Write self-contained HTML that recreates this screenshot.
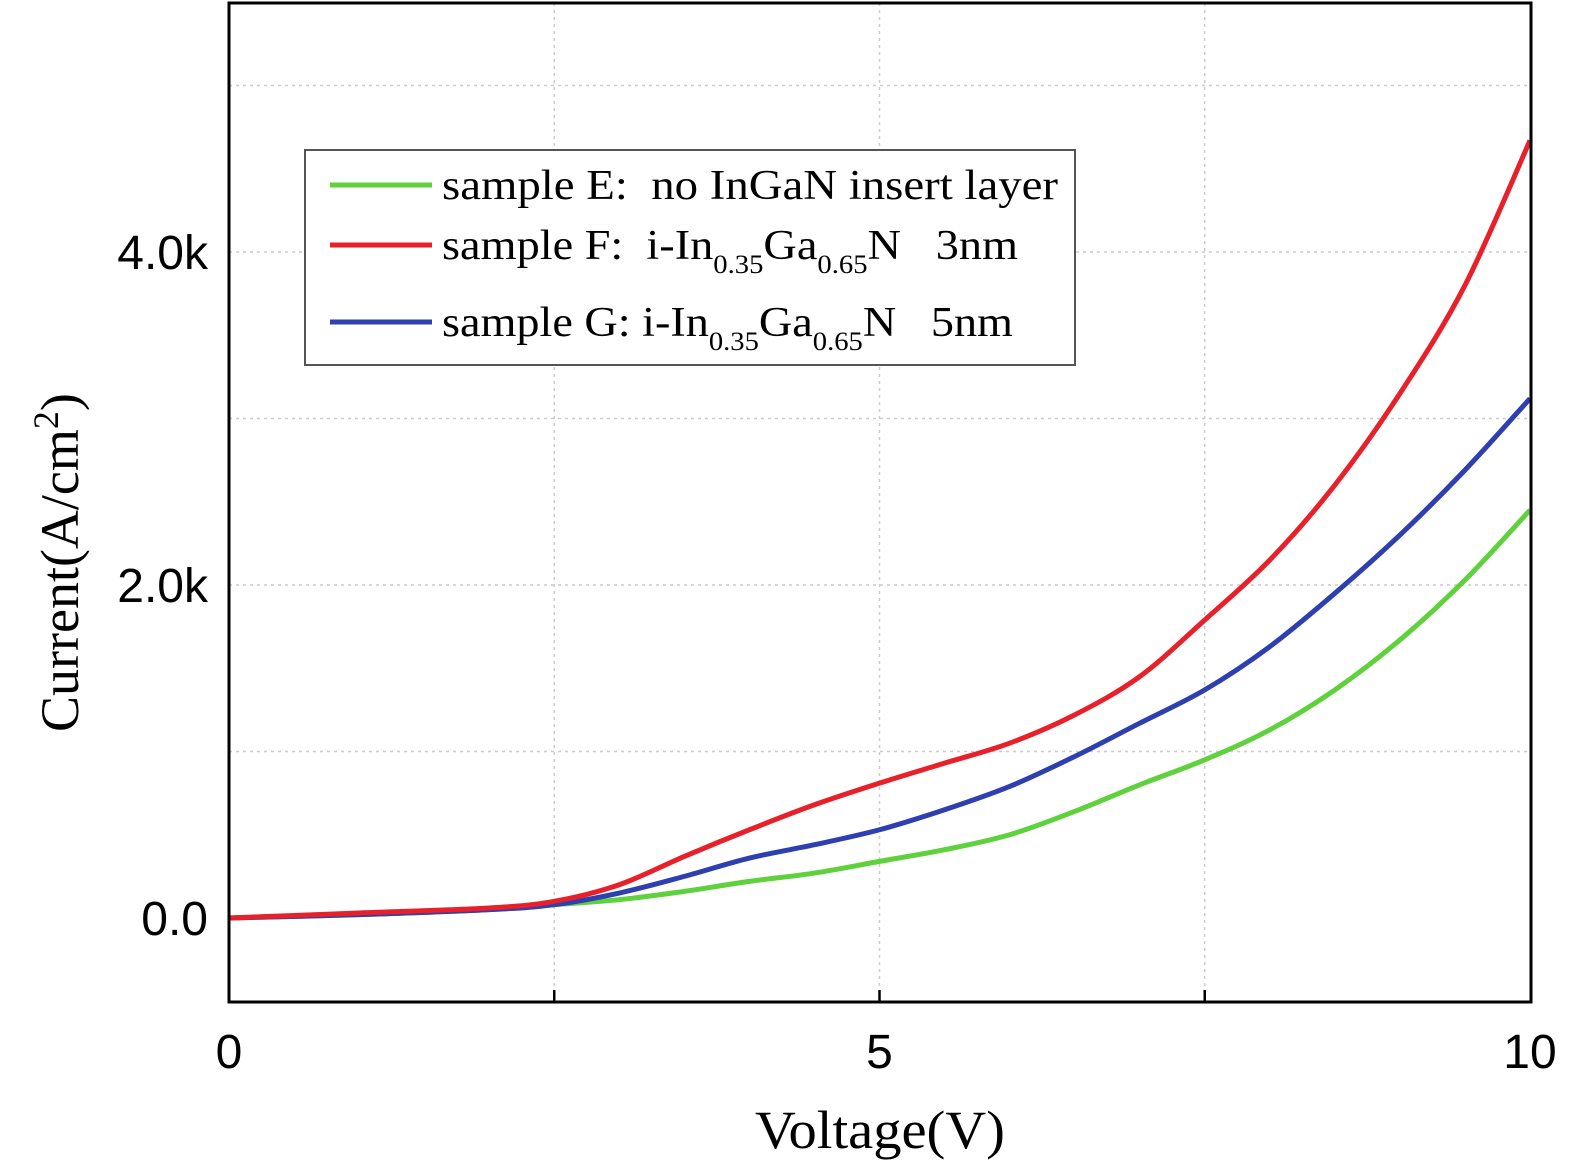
<!DOCTYPE html>
<html><head><meta charset="utf-8"><style>
html,body{margin:0;padding:0;background:#fff;overflow:hidden;width:1575px;height:1169px;}
svg{display:block;}
.serif{font-family:"Liberation Serif",serif;}
.sans{font-family:"Liberation Sans",sans-serif;}
</style></head><body>
<svg id="chart" width="1575" height="1169" viewBox="0 0 1575 1169">
<g id="grid"></g>
<g id="series"></g>
<rect x="229" y="3" width="1302" height="999" fill="none" stroke="#000" stroke-width="3"/>
<g id="ticks"></g>
<text x="755" y="1148" textLength="250" lengthAdjust="spacingAndGlyphs" class="serif" font-size="54">Voltage(V)</text>
<text transform="translate(78,732) rotate(-90)" class="serif" font-size="54">Current(A/cm<tspan dy="-20" font-size="36">2</tspan><tspan dy="20">)</tspan></text>
<g>
<rect x="305" y="150" width="770" height="215" fill="#fff" stroke="#555" stroke-width="2"/>
<line x1="330" y1="185" x2="432" y2="185" stroke="#5fd13c" stroke-width="5"/>
<text x="442" y="199" textLength="616" lengthAdjust="spacingAndGlyphs" class="serif" font-size="42">sample E:&#160; no InGaN insert layer</text>
<line x1="330" y1="245" x2="432" y2="245" stroke="#e8202a" stroke-width="5"/>
<text x="442" y="259" textLength="576" lengthAdjust="spacingAndGlyphs" class="serif" font-size="42">sample F:&#160; i-In<tspan dy="14" font-size="26">0.35</tspan><tspan dy="-14">Ga</tspan><tspan dy="14" font-size="26">0.65</tspan><tspan dy="-14">N&#160;&#160; 3nm</tspan></text>
<line x1="330" y1="322" x2="432" y2="322" stroke="#2e3fb0" stroke-width="5"/>
<text x="442" y="336" textLength="571" lengthAdjust="spacingAndGlyphs" class="serif" font-size="42">sample G: i-In<tspan dy="14" font-size="26">0.35</tspan><tspan dy="-14">Ga</tspan><tspan dy="14" font-size="26">0.65</tspan><tspan dy="-14">N&#160;&#160; 5nm</tspan></text>
</g>
</svg>
<script>
const voltages = [0, 1, 2, 2.5, 3, 3.5, 4, 4.5, 5, 5.5, 6, 6.5, 7, 7.5, 8, 8.5, 9, 9.5, 10];
const currentE = [0, 0.02, 0.05, 0.08, 0.11, 0.16, 0.22, 0.27, 0.34, 0.41, 0.5, 0.64, 0.8, 0.95, 1.13, 1.37, 1.67, 2.03, 2.45];
const currentF = [0, 0.03, 0.06, 0.1, 0.2, 0.37, 0.53, 0.68, 0.81, 0.93, 1.05, 1.22, 1.45, 1.79, 2.15, 2.6, 3.15, 3.8, 4.67];
const currentG = [0, 0.02, 0.05, 0.08, 0.15, 0.25, 0.36, 0.44, 0.53, 0.65, 0.79, 0.97, 1.17, 1.37, 1.63, 1.95, 2.3, 2.69, 3.12];
const xTicks = [0, 5, 10];
const xTickLabels = ["0", "5", "10"];
const xGrid = [2.5, 5, 7.5];
const yTicks = [0, 2, 4];
const yTickLabels = ["0.0", "2.0k", "4.0k"];
const yGrid = [1, 2, 3, 4, 5];
const NS = "http://www.w3.org/2000/svg";
function xs(v){return 229 + v*130.1;}
function ys(v){return 918 - v*166.5;}
const grid = document.getElementById('grid');
xGrid.forEach(v=>{
  const l=document.createElementNS(NS,'line');
  l.setAttribute('x1',xs(v));l.setAttribute('x2',xs(v));l.setAttribute('y1',3);l.setAttribute('y2',1002);
  l.setAttribute('stroke','#ccc');l.setAttribute('stroke-width','1.5');l.setAttribute('stroke-dasharray','3,4');
  
  
  grid.appendChild(l);
});
yGrid.forEach(v=>{
  const l=document.createElementNS(NS,'line');
  l.setAttribute('x1',229);l.setAttribute('x2',1531);l.setAttribute('y1',ys(v));l.setAttribute('y2',ys(v));
  l.setAttribute('stroke','#ccc');l.setAttribute('stroke-width','1.5');l.setAttribute('stroke-dasharray','3,4');
  
  
  grid.appendChild(l);
});
const ticks=document.getElementById('ticks');
xGrid.forEach(v=>{
  const l=document.createElementNS(NS,'line');
  l.setAttribute('x1',xs(v));l.setAttribute('x2',xs(v));l.setAttribute('y1',1002);l.setAttribute('y2',990);
  l.setAttribute('stroke','#000');l.setAttribute('stroke-width','2.5');
  
  
  ticks.appendChild(l);
});
xTicks.forEach((v,i)=>{
  const t=document.createElementNS(NS,'text');
  t.setAttribute('x',xs(v));t.setAttribute('y',1068);t.setAttribute('text-anchor','middle');
  t.setAttribute('class','sans');t.setAttribute('font-size','48');
  t.textContent=xTickLabels[i];
  
  
  ticks.appendChild(t);
});
yTicks.forEach((v,i)=>{
  const t=document.createElementNS(NS,'text');
  t.setAttribute('x',208);t.setAttribute('y',ys(v)+17);t.setAttribute('text-anchor','end');
  t.setAttribute('class','sans');t.setAttribute('font-size','48');
  t.textContent=yTickLabels[i];
  
  
  ticks.appendChild(t);
});
function smoothPath(px,py){
  let d='M'+px[0]+','+py[0];
  for(let i=0;i<px.length-1;i++){
    const x0=px[Math.max(i-1,0)],y0=py[Math.max(i-1,0)];
    const x1=px[i],y1=py[i],x2=px[i+1],y2=py[i+1];
    const x3=px[Math.min(i+2,px.length-1)],y3=py[Math.min(i+2,px.length-1)];
    d+=' C'+(x1+(x2-x0)/6)+','+(y1+(y2-y0)/6)+' '+(x2-(x3-x1)/6)+','+(y2-(y3-y1)/6)+' '+x2+','+y2;
  }
  return d;
}
const series=document.getElementById('series');
[[currentE,'#5fd13c','series-e'],[currentG,'#2e3fb0','series-g'],[currentF,'#e8202a','series-f']].forEach(([d,c,n])=>{
  const p=document.createElementNS(NS,'path');
  p.setAttribute('d',smoothPath(voltages.map(xs),d.map(ys)));
  p.setAttribute('fill','none');p.setAttribute('stroke',c);p.setAttribute('stroke-width','5');p.setAttribute('stroke-linejoin','round');
  
  
  series.appendChild(p);
});
</script>
</body></html>
